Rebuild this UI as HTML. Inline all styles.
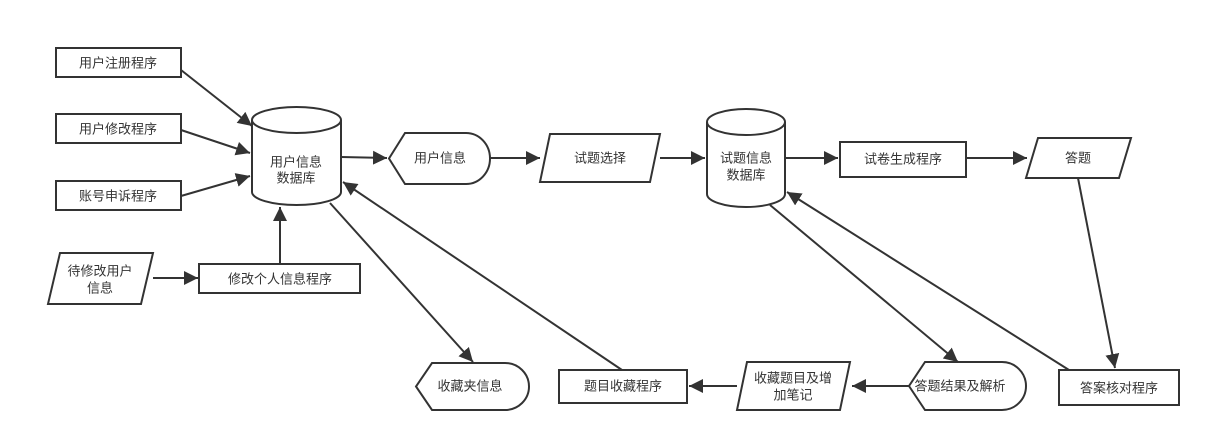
<!DOCTYPE html>
<html><head><meta charset="utf-8"><style>
html,body{margin:0;padding:0;background:#fff;}
svg text{font-family:"Liberation Sans","Noto Sans CJK SC",sans-serif;font-size:13px;fill:#333;text-anchor:middle;dominant-baseline:central;}
</style></head><body>
<svg width="1210" height="441" viewBox="0 0 1210 441" xmlns="http://www.w3.org/2000/svg">
<defs><marker id="a" viewBox="0 0 10 10" refX="10" refY="5" markerWidth="14" markerHeight="14" markerUnits="userSpaceOnUse" orient="auto"><path d="M0,0 L10,5 L0,10 z" fill="#333"/></marker></defs>
<g fill="#fff" stroke="#333" stroke-width="2">
<rect x="56" y="48" width="125" height="29"/>
<rect x="56" y="114" width="125" height="29"/>
<rect x="56" y="181" width="125" height="29"/>
<path d="M60,253 L153,253 L141,304 L48,304 z"/>
<rect x="199" y="264" width="161" height="29"/>
<path d="M252,120 L252,192 A44.5,13 0 0 0 341,192 L341,120"/>
<ellipse cx="296.5" cy="120" rx="44.5" ry="13"/>
<path d="M405,133 L466,133 A24,25.5 0 0 1 466,184 L405,184 L389,158.5 z"/>
<path d="M550,134 L660,134 L650,182 L540,182 z"/>
<path d="M707,122 L707,194 A39,13 0 0 0 785,194 L785,122"/>
<ellipse cx="746" cy="122" rx="39" ry="13"/>
<rect x="840" y="142" width="126" height="35"/>
<path d="M1038,138 L1131,138 L1119,178 L1026,178 z"/>
<rect x="1059" y="370" width="120" height="35"/>
<path d="M925,362 L1002,362 A24,24 0 0 1 1002,410 L925,410 L909,386 z"/>
<path d="M747,362 L850,362 L840,410 L737,410 z"/>
<rect x="559" y="370" width="128" height="33"/>
<path d="M432,363 L505,363 A24,23.5 0 0 1 505,410 L432,410 L416,386.5 z"/>
</g>
<g stroke="#333" stroke-width="2" fill="none" marker-end="url(#a)">
<line x1="181" y1="70" x2="252" y2="126"/>
<line x1="181" y1="130" x2="250" y2="153"/>
<line x1="181" y1="196" x2="250" y2="176"/>
<line x1="153" y1="278" x2="198" y2="278"/>
<line x1="280" y1="264" x2="280" y2="207"/>
<line x1="341" y1="157" x2="387" y2="158"/>
<line x1="490" y1="158" x2="540" y2="158"/>
<line x1="660" y1="158" x2="705" y2="158"/>
<line x1="785" y1="158" x2="838" y2="158"/>
<line x1="966" y1="158" x2="1027" y2="158"/>
<line x1="1078" y1="178" x2="1115" y2="368"/>
<line x1="1069" y1="370" x2="787" y2="192"/>
<line x1="770" y1="205" x2="958" y2="362"/>
<line x1="909" y1="386" x2="852" y2="386"/>
<line x1="737" y1="386" x2="689" y2="386"/>
<line x1="622" y1="370" x2="343" y2="182"/>
<line x1="330" y1="203" x2="473" y2="362"/>
</g>
<text x="118" y="63">用户注册程序</text>
<text x="118" y="129">用户修改程序</text>
<text x="118" y="196">账号申诉程序</text>
<text x="100" y="271">待修改用户</text>
<text x="100" y="288">信息</text>
<text x="280" y="279">修改个人信息程序</text>
<text x="296" y="162">用户信息</text>
<text x="296" y="178">数据库</text>
<text x="440" y="158">用户信息</text>
<text x="600" y="158">试题选择</text>
<text x="746" y="158">试题信息</text>
<text x="746" y="175">数据库</text>
<text x="903" y="159">试卷生成程序</text>
<text x="1078" y="158">答题</text>
<text x="1119" y="388">答案核对程序</text>
<text x="960" y="386">答题结果及解析</text>
<text x="793" y="378">收藏题目及增</text>
<text x="793" y="395">加笔记</text>
<text x="623" y="386">题目收藏程序</text>
<text x="470" y="386">收藏夹信息</text>
</svg>
</body></html>
